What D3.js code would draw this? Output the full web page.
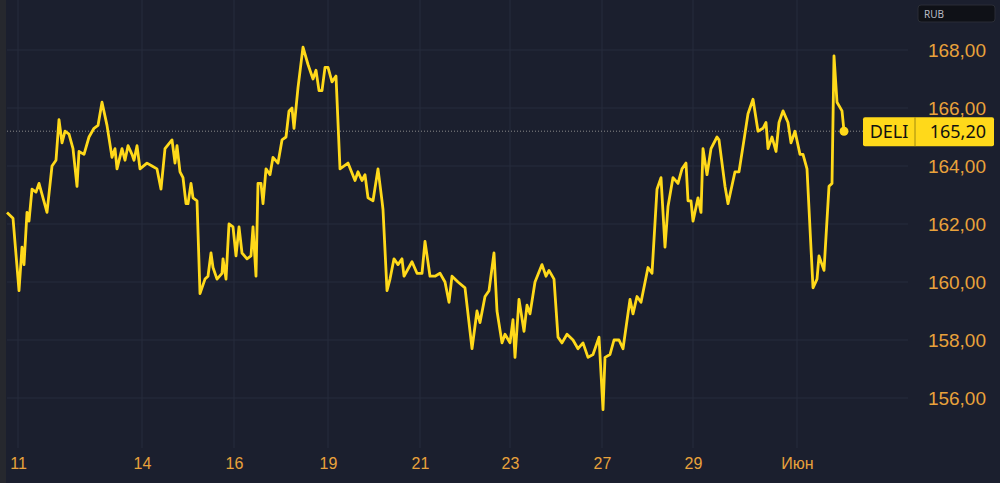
<!DOCTYPE html>
<html>
<head>
<meta charset="utf-8">
<script src="https://cdn.jsdelivr.net/npm/d3@7"></script>
<style>
  body { margin: 0; background: #1b1f2e; }
  svg { display: block; font-family: "Noto Sans", "DejaVu Sans", sans-serif; }
</style>
</head>
<body>
<svg id="chart" width="1000" height="483"></svg>
<script>
// bar number (trading period) and close price
var bars = [0,6,12,15,17,20,22,25,29,32,40,45,49,52,55,58,62,66,70,72,77,82,87,91,95,100,105,108,110,115,118,121,125,127,130,133,140,145,150,154,158,165,168,170,173,176,179,181,184,186,190,193,198,201,204,206,210,215,216,219,222,226,229,232,235,240,244,246,249,251,254,256,259,263,266,271,275,279,282,285,287,291,296,301,306,309,312,315,318,321,325,329,333,341,348,351,355,358,361,366,371,375,376,380,383,387,391,395,397,405,410,415,418,423,428,433,438,442,445,451,458,465,470,473,478,482,487,490,495,498,503,506,508,512,517,520,523,528,535,539,542,547,551,555,560,566,571,576,581,586,592,596,598,603,607,612,616,623,626,630,634,641,645,650,654,658,661,666,671,675,679,681,684,686,691,694,696,700,704,710,712,718,721,728,732,737,741,746,751,756,759,761,765,769,772,776,781,784,788,793,796,800,806,810,812,817,822,825,827,830,835,837];
var prices = [162.4,162.2,159.7,161.2,160.6,162.4,162.1,163.2,163.1,163.4,162.4,164.0,164.2,165.6,164.8,165.2,165.1,164.6,163.3,164.5,164.4,165.0,165.3,165.4,166.2,165.4,164.3,164.6,163.9,164.6,164.2,164.7,164.4,164.2,164.7,163.9,164.1,164.0,163.9,163.2,164.6,164.9,164.1,164.7,163.8,163.6,162.7,162.7,163.4,162.9,162.8,159.6,160.1,160.2,161.0,160.5,160.1,160.3,160.8,160.1,162.0,161.9,160.9,161.9,161.0,160.8,160.9,161.9,160.2,163.4,163.4,162.7,163.9,163.7,164.3,164.1,164.9,165.0,165.9,166.0,165.3,166.7,168.1,167.5,167.0,167.3,166.6,166.6,167.4,167.4,166.9,167.1,163.9,164.1,163.5,163.8,163.5,163.7,162.9,162.8,163.9,162.8,162.5,159.7,160.1,160.8,160.6,160.8,160.2,160.7,160.3,160.3,161.4,160.2,160.2,160.3,160.0,159.3,160.2,160.0,159.8,157.7,159.0,158.6,159.5,159.7,161.0,159.0,157.9,158.2,157.9,158.7,157.4,159.4,158.3,159.2,158.9,160.0,160.6,160.2,160.4,160.1,158.1,157.9,158.2,158.0,157.7,157.9,157.4,157.5,158.1,155.6,157.4,157.5,158.0,158.0,157.7,159.4,158.9,159.5,159.3,160.5,160.3,163.2,163.6,161.2,162.6,163.6,163.4,163.9,164.1,162.8,162.8,162.1,162.9,162.4,164.6,163.7,164.6,165.0,164.9,163.3,162.7,163.8,163.8,164.9,165.8,166.3,165.2,165.3,165.5,164.6,165.0,164.5,165.5,165.9,165.5,164.8,165.2,164.4,164.4,163.9,159.8,160.1,160.9,160.4,163.3,163.4,167.8,166.2,165.9,165.2];
var dayTicks = [11,135,227,321,413,503,595,686,790];
var dayLabels = ['11','14','16','19','21','23','27','29','Июн'];
var priceTicks = [156,158,160,162,164,166,168];
var lastPrice = 165.2;
var ticker = 'DELI';

var svg = d3.select('#chart');
var W = 1000, H = 483, plotRight = 908;

var x = d3.scaleLinear().domain([0, 901]).range([7, plotRight]);
var y = d3.scaleLinear().domain([156, 168]).range([398, 50]);
var fmt = function(v) { return d3.format('.2f')(v).replace('.', ','); };

svg.append('rect').attr('width', W).attr('height', H).attr('fill', '#1b1f2e');
svg.append('rect').attr('width', 6).attr('height', H).attr('fill', '#26282e');

// grid
svg.append('g').selectAll('line').data(priceTicks).enter().append('line')
    .attr('x1', 7).attr('x2', plotRight)
    .attr('y1', function(d) { return y(d); }).attr('y2', function(d) { return y(d); })
    .attr('stroke', '#272c3d').attr('stroke-width', 1);
svg.append('g').selectAll('line').data(dayTicks).enter().append('line')
    .attr('x1', function(d) { return x(d); }).attr('x2', function(d) { return x(d); })
    .attr('y1', 0).attr('y2', 448)
    .attr('stroke', '#272c3d').attr('stroke-width', 1);

// last price dotted line
svg.append('line')
    .attr('x1', 7).attr('x2', plotRight)
    .attr('y1', y(lastPrice)).attr('y2', y(lastPrice))
    .attr('stroke', '#8a8a8a').attr('stroke-width', 1).attr('stroke-dasharray', '1,2');

// y axis labels
var yAxis = d3.axisRight(y).tickValues(priceTicks).tickFormat(fmt).tickSize(0);
var ya = svg.append('g').attr('transform', 'translate(' + (W - 14) + ',0)').call(yAxis);
ya.select('.domain').remove();
ya.selectAll('text').attr('fill', '#e9a23b').attr('font-size', 19)
    .attr('text-anchor', 'end').attr('x', 0);

// x axis labels
var xAxis = d3.axisBottom(x).tickValues(dayTicks)
    .tickFormat(function(d, i) { return dayLabels[i]; }).tickSize(0);
var xa = svg.append('g').attr('transform', 'translate(0,455)').call(xAxis);
xa.select('.domain').remove();
xa.selectAll('text').attr('fill', '#e9a23b').attr('font-size', 16);

// price line
var n = Math.min(bars.length, prices.length);
var pts = d3.range(n).map(function(i) { return [bars[i], prices[i]]; });
var line = d3.line().x(function(d) { return x(d[0]); }).y(function(d) { return y(d[1]); });
svg.append('path').datum(pts).attr('d', line)
    .attr('fill', 'none').attr('stroke', '#ffd91a').attr('stroke-width', 2.8)
    .attr('stroke-linejoin', 'round');
var last = pts[pts.length - 1];
svg.append('circle').attr('cx', x(last[0])).attr('cy', y(last[1])).attr('r', 4.5).attr('fill', '#ffd91a');

// last price tag
var ty = y(lastPrice);
svg.append('rect').attr('x', 863).attr('y', ty - 14).attr('width', 131).attr('height', 29)
    .attr('rx', 2).attr('fill', '#ffd91a');
svg.append('line').attr('x1', 915).attr('x2', 915).attr('y1', ty - 14).attr('y2', ty + 15)
    .attr('stroke', '#a08a10').attr('stroke-width', 1);
svg.append('text').attr('x', 889).attr('y', ty + 7).attr('text-anchor', 'middle')
    .attr('font-size', 18).attr('fill', '#111').text(ticker);
svg.append('text').attr('x', 986).attr('y', ty + 7).attr('text-anchor', 'end')
    .attr('font-size', 18).attr('fill', '#111').text(fmt(lastPrice));

// currency box
svg.append('rect').attr('x', 918).attr('y', 5).attr('width', 77).attr('height', 17)
    .attr('rx', 3).attr('fill', '#0f1117').attr('stroke', '#2a2d36');
svg.append('text').attr('x', 924).attr('y', 17.5).attr('font-size', 10)
    .attr('fill', '#b8bcc6').text('RUB');
</script>
</body>
</html>
